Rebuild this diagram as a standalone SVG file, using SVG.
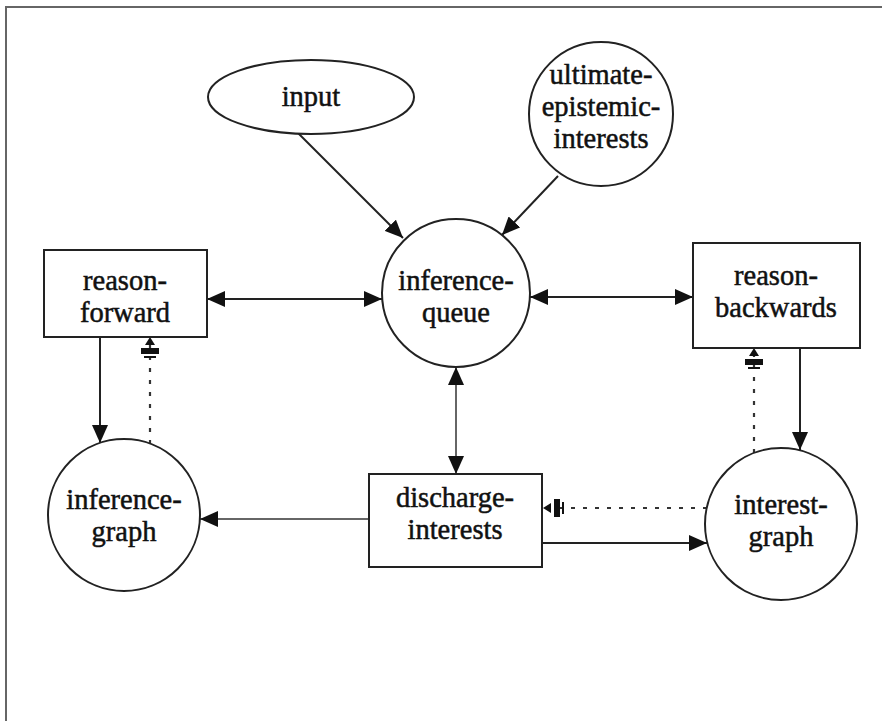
<svg xmlns="http://www.w3.org/2000/svg" width="882" height="721" viewBox="0 0 882 721">
  <style>
    .node { fill: #fff; stroke: #222; stroke-width: 2; }
    .label { font-family: "Liberation Serif", "DejaVu Serif", serif; font-size: 28.5px; fill: #111; stroke: #111; stroke-width: 0.5; text-anchor: middle; }
    .link { fill: none; stroke: #222; stroke-width: 2; }
    .link.faint { stroke: #666; }
    .dotted { fill: none; stroke: #333; stroke-width: 2.2; stroke-dasharray: 4 8; }
    .frame { fill: none; stroke: #666; stroke-width: 2; }
  </style>
  <defs>
    <marker id="arrow" viewBox="0 0 18 16" refX="18" refY="8" markerWidth="18" markerHeight="16" markerUnits="userSpaceOnUse" orient="auto-start-reverse">
      <path d="M0,0 L18,8 L0,16 Z" fill="#111"/>
    </marker>
    <marker id="blunt" viewBox="0 0 22 22" refX="22" refY="11" markerWidth="22" markerHeight="22" markerUnits="userSpaceOnUse" orient="auto">
      <path d="M14,6 L22,11 L14,16 Z M5,2 H11 V20 H5 Z M1,5 H3 V17 H1 Z" fill="#111"/>
    </marker>
  </defs>

  <rect width="882" height="721" fill="#fff"/>
  <path class="frame" d="M6,721 V7 H882"/>

  <g id="connectors">
    <line class="link" x1="293" y1="128" x2="403" y2="238" marker-end="url(#arrow)"/>
    <line class="link" x1="558" y1="176" x2="502" y2="235" marker-end="url(#arrow)"/>
    <line class="link" x1="207" y1="299" x2="382" y2="299" marker-start="url(#arrow)" marker-end="url(#arrow)"/>
    <line class="link" x1="530" y1="297" x2="693" y2="297" marker-start="url(#arrow)" marker-end="url(#arrow)"/>
    <line class="link faint" x1="456" y1="367" x2="456" y2="474" marker-start="url(#arrow)" marker-end="url(#arrow)"/>
    <line class="link" x1="100" y1="337" x2="100" y2="443" marker-end="url(#arrow)"/>
    <line class="dotted" x1="150" y1="444" x2="150" y2="337" marker-end="url(#blunt)"/>
    <line class="link" x1="800" y1="348" x2="800" y2="450" marker-end="url(#arrow)"/>
    <line class="dotted" x1="754" y1="453" x2="754" y2="348" marker-end="url(#blunt)"/>
    <line class="link faint" x1="369" y1="519" x2="200" y2="519" marker-end="url(#arrow)"/>
    <line class="link" x1="542" y1="543" x2="707" y2="543" marker-end="url(#arrow)"/>
    <line class="dotted" x1="707" y1="508" x2="543" y2="508" marker-end="url(#blunt)"/>
  </g>

  <g id="input">
    <ellipse class="node" cx="311" cy="97" rx="103" ry="37"/>
    <text class="label" x="311" y="106">input</text>
  </g>

  <g id="ultimate-epistemic-interests">
    <circle class="node" cx="601" cy="114" r="72"/>
    <text class="label" x="601" y="84">ultimate-</text>
    <text class="label" x="601" y="116">epistemic-</text>
    <text class="label" x="601" y="148">interests</text>
  </g>

  <g id="inference-queue">
    <circle class="node" cx="456" cy="293" r="74"/>
    <text class="label" x="456" y="290">inference-</text>
    <text class="label" x="456" y="322">queue</text>
  </g>

  <g id="reason-forward">
    <rect class="node" x="44" y="250" width="163" height="87"/>
    <text class="label" x="125" y="290">reason-</text>
    <text class="label" x="125" y="322">forward</text>
  </g>

  <g id="reason-backwards">
    <rect class="node" x="693" y="243" width="167" height="105"/>
    <text class="label" x="776" y="285">reason-</text>
    <text class="label" x="776" y="317">backwards</text>
  </g>

  <g id="inference-graph">
    <circle class="node" cx="124" cy="515" r="76"/>
    <text class="label" x="124" y="509">inference-</text>
    <text class="label" x="124" y="541">graph</text>
  </g>

  <g id="discharge-interests">
    <rect class="node" x="369" y="474" width="173" height="93"/>
    <text class="label" x="455" y="507">discharge-</text>
    <text class="label" x="455" y="539">interests</text>
  </g>

  <g id="interest-graph">
    <circle class="node" cx="781" cy="524" r="76"/>
    <text class="label" x="781" y="514">interest-</text>
    <text class="label" x="781" y="546">graph</text>
  </g>
</svg>
